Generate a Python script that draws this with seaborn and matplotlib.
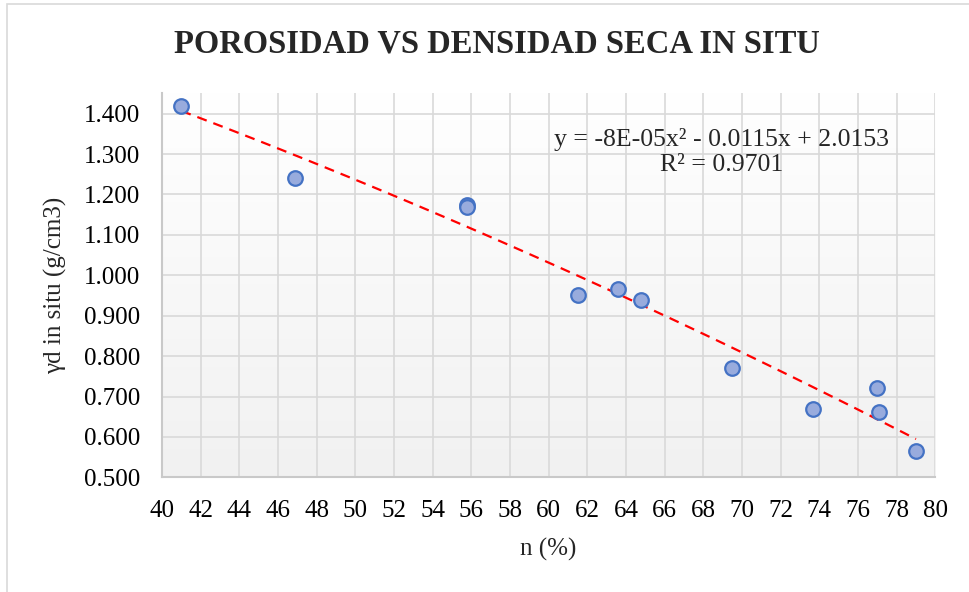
import matplotlib.pyplot as plt
import matplotlib.patches as mpatches
import numpy as np
import seaborn as sns
import pandas as pd

# porosity n (%) vs in-situ dry density (g/cm3)
porosidad = [41.0, 46.9, 55.8, 55.8, 61.5, 63.6, 64.8, 69.5, 73.7, 77.0, 77.1, 79.0]
densidad = [1.419, 1.240, 1.174, 1.168, 0.951, 0.965, 0.940, 0.771, 0.668, 0.721, 0.661, 0.566]

x_ticks = list(range(40, 81, 2))
y_ticks = [0.5, 0.6, 0.7, 0.8, 0.9, 1.0, 1.1, 1.2, 1.3, 1.4]

titulo = "POROSIDAD VS DENSIDAD SECA IN SITU"
ecuacion = "y = -8E-05x² - 0.0115x + 2.0153"
r2 = "R² = 0.9701"

data = pd.DataFrame({"n": porosidad, "yd": densidad})

sns.set_theme(style="white")
plt.rcParams["font.family"] = ["Liberation Serif", "DejaVu Serif"]

fig = plt.figure(figsize=(9.69, 5.92), dpi=100)
ax = fig.add_axes([0.1672, 0.1937, 0.9652 - 0.1672, 0.8429 - 0.1937])

# light vertical gradient in the plot area (white on top, grey at bottom)
grad = np.linspace(0, 1, 256).reshape(-1, 1)
ax.imshow(grad, extent=[0, 1, 0, 1], transform=ax.transAxes, aspect="auto",
          cmap=plt.matplotlib.colors.LinearSegmentedColormap.from_list("g", ["#ffffff", "#f1f1f1"]),
          vmin=0, vmax=1, zorder=0)

sns.regplot(data=data, x="n", y="yd", order=2, ci=None, scatter=False, ax=ax,
            line_kws=dict(color="#ff0000", lw=1.6, ls=(0, (4.5, 3.2)), zorder=3))
sns.scatterplot(data=data, x="n", y="yd", ax=ax, s=110, color="#98abdd",
                edgecolor="#4472c4", linewidth=1.6, zorder=4)

ax.set_xlim(40, 80)
ax.set_ylim(0.5, 1.451)
ax.set_xticks(x_ticks)
ax.set_yticks(y_ticks)
ax.set_yticklabels([f"{v:.3f}" for v in y_ticks])
ax.grid(True, color="#d9d9d9", lw=1.2)
ax.set_axisbelow(True)
for s in ["top", "right"]:
    ax.spines[s].set_visible(False)
for s in ["left", "bottom"]:
    ax.spines[s].set_color("#c9c9c9")
    ax.spines[s].set_linewidth(1.5)
ax.tick_params(axis="both", length=0, labelsize=18, pad=16, colors="black")

ax.set_xlabel("n (%)", fontsize=18, labelpad=12)
ax.set_ylabel("γd in situ (g/cm3)", fontsize=18, labelpad=12)

ax.text(0.7235, 0.847, ecuacion + "\n" + r2, transform=ax.transAxes, fontsize=18.5,
        ha="center", va="center", linespacing=1.17)

fig.text(0.513, 0.925, titulo, ha="center", va="center", fontsize=23.5, fontweight="bold")

# outer chart border
fig.add_artist(mpatches.Rectangle((7 / 969, -0.1), 1.2, 1.1 - 4 / 592, transform=fig.transFigure,
                                  fill=False, edgecolor="#d9d9d9", lw=1.2))

fig.savefig("out.png", dpi=100)
